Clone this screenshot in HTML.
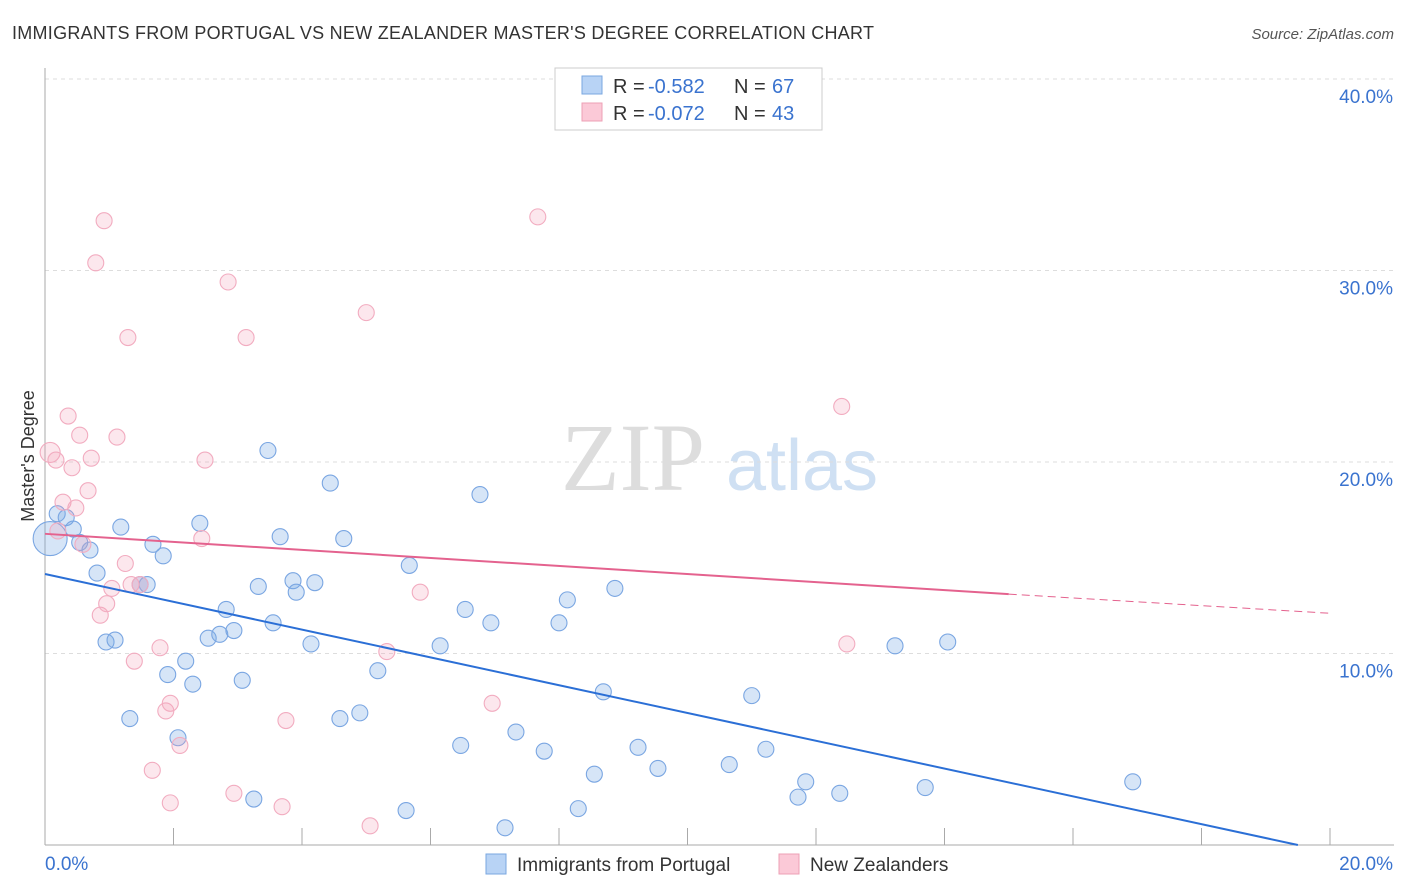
<!DOCTYPE html>
<html><head><meta charset="utf-8"><style>
body{margin:0;background:#fff;font-family:"Liberation Sans",sans-serif;}
svg{display:block}
</style></head><body>
<svg id="chart" width="1406" height="892" xmlns="http://www.w3.org/2000/svg">
<text x="12" y="39" font-size="18" fill="#333" textLength="862" lengthAdjust="spacing">IMMIGRANTS FROM PORTUGAL VS NEW ZEALANDER MASTER'S DEGREE CORRELATION CHART</text>
<text x="1394" y="39" font-size="15" fill="#555" text-anchor="end" font-style="italic">Source: ZipAtlas.com</text>
<g>
<text x="633" y="490" font-size="96" fill="#ddd" font-family="Liberation Serif" text-anchor="middle">ZIP</text>
<text x="802" y="490" font-size="72" fill="#cfe0f3" text-anchor="middle">atlas</text>
</g>
<g id="grid"></g>
<g id="axes"></g>
<g id="pts"></g>
<g id="lines"></g>
<g>
<rect x="555" y="68" width="267" height="62" fill="#fff" stroke="#ccc"/>
<rect x="582" y="76" width="20" height="18" fill="#b8d3f5" stroke="#7aa7e0"/>
<rect x="582" y="103" width="20" height="18" fill="#fbc9d7" stroke="#eea0b6"/>
<text x="613" y="93" font-size="20" fill="#333">R =</text>
<text x="648" y="93" font-size="20" fill="#3a73cf">-0.582</text>
<text x="734" y="93" font-size="20" fill="#333">N =</text>
<text x="772" y="93" font-size="20" fill="#3a73cf">67</text>
<text x="613" y="120" font-size="20" fill="#333">R =</text>
<text x="648" y="120" font-size="20" fill="#3a73cf">-0.072</text>
<text x="734" y="120" font-size="20" fill="#333">N =</text>
<text x="772" y="120" font-size="20" fill="#3a73cf">43</text>
</g>
<g>
<rect x="486" y="854" width="20" height="20" fill="#b8d3f5" stroke="#7aa7e0"/>
<text x="517" y="871" font-size="19" fill="#333">Immigrants from Portugal</text>
<rect x="779" y="854" width="20" height="20" fill="#fbc9d7" stroke="#eea0b6"/>
<text x="810" y="871" font-size="19" fill="#333">New Zealanders</text>
</g>
<text transform="translate(34,456) rotate(-90)" font-size="18" fill="#333" text-anchor="middle">Master's Degree</text>
</svg>
<script>
const yTicks=[10,20,30,40];
const yTickLabels=["10.0%","20.0%","30.0%","40.0%"];
const xTickLabels=["0.0%","20.0%"];
const blueX=[0.08,0.19,0.33,0.44,0.54,0.7,0.81,0.95,1.09,1.18,1.32,1.48,1.59,1.68,1.84,1.91,2.07,2.19,2.3,2.41,2.54,2.72,2.82,2.94,3.07,3.25,3.32,3.47,3.55,3.66,3.86,3.91,4.14,4.2,4.44,4.59,4.65,4.9,5.18,5.62,5.67,6.15,6.47,6.54,6.77,6.94,7.16,7.33,7.77,8.0,8.13,8.3,8.55,8.69,8.87,9.23,9.54,10.65,11.0,11.22,11.72,11.84,12.37,13.23,13.7,14.05,16.93];
const blueY=[16.0,17.3,17.1,16.5,15.8,15.4,14.2,10.6,10.7,16.6,6.6,13.6,13.6,15.7,15.1,8.9,5.6,9.6,8.4,16.8,10.8,11.0,12.3,11.2,8.6,2.4,13.5,20.6,11.6,16.1,13.8,13.2,10.5,13.7,18.9,6.6,16.0,6.9,9.1,1.8,14.6,10.4,5.2,12.3,18.3,11.6,0.9,5.9,4.9,11.6,12.8,1.9,3.7,8.0,13.4,5.1,4.0,4.2,7.8,5.0,2.5,3.3,2.7,10.4,3.0,10.6,3.3];
const pinkX=[0.08,0.17,0.2,0.28,0.36,0.42,0.54,0.48,0.67,0.72,0.79,0.92,0.86,0.96,1.04,1.12,1.25,1.29,1.39,1.34,1.48,1.79,1.88,1.95,1.95,2.1,1.67,2.44,2.49,2.85,2.94,3.13,3.69,3.75,5.0,5.06,5.32,5.84,6.96,7.67,12.4,12.48,0.59];
const pinkY=[20.5,20.1,16.4,17.9,22.4,19.7,21.4,17.6,18.5,20.2,30.4,32.6,12.0,12.6,13.4,21.3,14.7,26.5,9.6,13.6,13.6,10.3,7.0,7.4,2.2,5.2,3.9,16.0,20.1,29.4,2.7,26.5,2.0,6.5,27.8,1.0,10.1,13.2,7.4,32.8,22.9,10.5,15.7];
const blueLine=[0,14.15,19.5,0];
const pinkLine=[0,16.25,15,13.1,20,12.1];
const X0=45,X1=1330,Y0=845,Yk=19.15;
const xs=v=>X0+(X1-X0)*v/20, ys=v=>Y0-v*Yk;
const NS="http://www.w3.org/2000/svg";
function mk(tag,attrs,parent){const e=document.createElementNS(NS,tag);for(const k in attrs)e.setAttribute(k,attrs[k]);parent.appendChild(e);return e;}
const grid=document.getElementById('grid'),axes=document.getElementById('axes'),pts=document.getElementById('pts'),lines=document.getElementById('lines');
yTicks.forEach((t,i)=>{
 const l=mk('line',{x1:X0,x2:1394,y1:ys(t),y2:ys(t),stroke:'#ddd','stroke-dasharray':'4,4'},grid);
 
 
 const tx=mk('text',{x:1393,y:ys(t)+24,'font-size':19,fill:'#3a73cf','text-anchor':'end'},axes);
 tx.textContent=yTickLabels[i];
 
 
});
const ax=mk('line',{x1:X0,x2:X0,y1:68,y2:Y0,stroke:'#aaa'},axes);


const bx=mk('line',{x1:X0,x2:1394,y1:Y0,y2:Y0,stroke:'#aaa'},axes);


for(let i=1;i<=10;i++){const t=mk('line',{x1:xs(i*2),x2:xs(i*2),y1:Y0,y2:Y0-17,stroke:'#aaa'},axes);
 
 }
[[0,45,'start'],[20,1393,'end']].forEach((d,i)=>{const t=mk('text',{x:d[1],y:870,'font-size':19,fill:'#3a73cf','text-anchor':d[2]},axes);t.textContent=xTickLabels[i];
 
 });
blueX.forEach((x,i)=>{const c=mk('circle',{cx:xs(x),cy:ys(blueY[i]),r:i==0?17:8,fill:'rgba(120,170,230,0.3)',stroke:'#7aa6e2','stroke-width':1.1},pts);
 
 });
pinkX.forEach((x,i)=>{const c=mk('circle',{cx:xs(x),cy:ys(pinkY[i]),r:i==0?10:8,fill:'rgba(245,160,185,0.25)',stroke:'#f2acc0','stroke-width':1.1},pts);
 
 });
const b=mk('line',{x1:xs(blueLine[0]),y1:ys(blueLine[1]),x2:xs(blueLine[2]),y2:ys(blueLine[3]),stroke:'#2b6fd6','stroke-width':2},lines);


const p=mk('line',{x1:xs(pinkLine[0]),y1:ys(pinkLine[1]),x2:xs(pinkLine[2]),y2:ys(pinkLine[3]),stroke:'#e4628e','stroke-width':2},lines);


const pd=mk('line',{x1:xs(pinkLine[2]),y1:ys(pinkLine[3]),x2:xs(pinkLine[4]),y2:ys(pinkLine[5]),stroke:'#e4628e','stroke-width':1,'stroke-dasharray':'8,5'},lines);


</script>
</body></html>
